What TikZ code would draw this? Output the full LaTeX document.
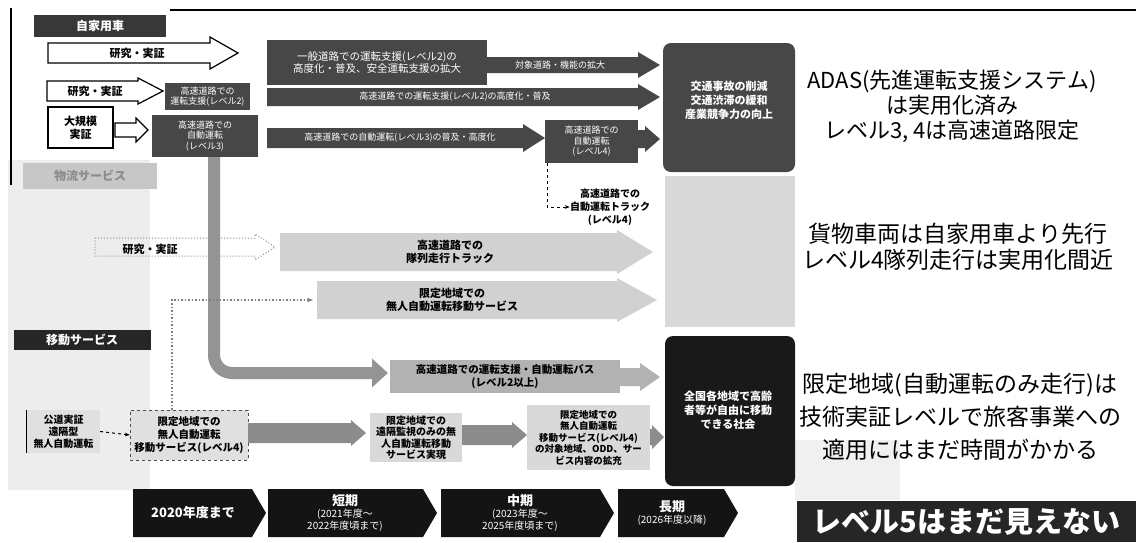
\documentclass[tikz,border=0pt]{standalone}
\usepackage{fontspec}
\setmainfont{Noto Sans CJK JP}
\usetikzlibrary{arrows.meta}
\newcommand{\myarrow}[7]{\path[#1] (#2,#4-#5) -- ({#3-#7},#4-#5) -- ({#3-#7},#4-#6) -- (#3,#4) -- ({#3-#7},#4+#6) -- ({#3-#7},#4+#5) -- (#2,#4+#5) -- cycle;}
\newcommand{\mychev}[3]{\fill[black!92] (#1,489) -- (#2,489) -- (#3,513) -- (#2,537) -- (#1,537) -- cycle;}
\begin{document}
\begin{tikzpicture}[x=1pt,y=-1pt,
  lbl/.style={font=\fontsize{10.5}{12.5}\selectfont, align=center, inner sep=0},
  wlbl/.style={lbl, text=white},
  sml/.style={font=\fontsize{9}{10.5}\selectfont, align=center, inner sep=0},
  dbox/.style={fill=black!72, inner sep=0},
  gbox/.style={fill=black!16, inner sep=0},
  big/.style={font=\fontsize{22}{25}\selectfont, align=center, inner sep=0},
  chevt/.style={text=white, align=center, inner sep=0, font=\fontsize{10}{12}\selectfont}
]
\useasboundingbox (0,0) rectangle (1136,542);
\fill[white] (0,0) rectangle (1136,542);
% scanned background tint
\fill[black!7] (8,160) rectangle (150,490);
\fill[black!6] (795,440) rectangle (900,500);
% frame lines
\draw[line width=2] (170,10) -- (1136,10);
\draw[line width=2] (11,8) -- (11,185);

% ---------------- section labels
\node[fill=black!78, minimum width=132, minimum height=22, inner sep=0, text=white, font=\bfseries\fontsize{12}{14}\selectfont] (hcar) at (100,26) {自家用車};
\node[fill=black!22, minimum width=134, minimum height=26, inner sep=0, text=black!45, font=\bfseries\fontsize{12}{14}\selectfont] (hlog) at (90,176) {物流サービス};
\node[fill=black!85, minimum width=137, minimum height=20, inner sep=0, text=white, font=\bfseries\fontsize{12}{14}\selectfont] (hmov) at (82,340) {移動サービス};

% ---------------- row 1
\myarrow{draw=black, line width=1.2, fill=white}{48}{238}{53}{10}{16}{28}
\node[lbl, font=\bfseries\fontsize{11}{13}\selectfont] (r1a) at (137,53) {研究・実証};
\node[dbox, minimum width=220, minimum height=45] (r1b) at (377,62.5) {};
\node[wlbl] (r1bt) at (r1b) {一般道路での運転支援(レベル2)の\\高度化・普及、安全運転支援の拡大};
\myarrow{fill=black!72}{487}{660}{65}{8}{13}{22}
\node[sml, text=white] (r1c) at (560,65) {対象道路・機能の拡大};

% ---------------- row 2
\myarrow{draw=black, line width=1.2, fill=white}{47}{163}{91}{10}{13}{25}
\node[lbl, font=\bfseries\fontsize{11}{13}\selectfont] (r2a) at (95,91) {研究・実証};
\node[dbox, minimum width=85, minimum height=27] (r2b) at (207.5,96.5) {};
\node[sml, text=white] (r2bt) at (r2b) {高速道路での\\運転支援(レベル2)};
\myarrow{fill=black!72}{267}{660}{97}{9}{13}{22}
\node[sml, text=white] (r2c) at (455,97) {高速道路での運転支援(レベル2)の高度化・普及};

% ---------------- row 3
\node[draw=black, line width=1.2, fill=white, minimum width=65, minimum height=41, inner sep=0, align=center, font=\bfseries\fontsize{11}{13}\selectfont] (r3a) at (80.5,127.5) {大規模\\実証};
\myarrow{draw=black, line width=1.2, fill=white}{115}{148}{130}{7}{12}{12}
\node[dbox, minimum width=106, minimum height=42] (r3b) at (205,136) {};
\node[sml, text=white] (r3bt) at (r3b) {高速道路での\\自動運転\\(レベル3)};
\myarrow{fill=black!72}{267}{545}{138}{10}{14}{22}
\node[sml, text=white] (r3c) at (400,138) {高速道路での自動運転(レベル3)の普及・高度化};
\node[dbox, minimum width=93, minimum height=43] (r3d) at (591.5,141.5) {};
\node[sml, text=white] (r3dt) at (r3d) {高速道路での\\自動運転\\(レベル4)};
\myarrow{fill=black!72}{638}{660}{139}{9}{13}{15}
% truck branch
\coordinate (tk0) at (547,163);
\coordinate (tk1) at (547,207);
\node[lbl, font=\bfseries\fontsize{10}{13}\selectfont] (truck) at (610,207) {高速道路での\\自動運転トラック\\(レベル4)};
\draw[dashed, line width=1, -{Stealth[length=5pt]}] (tk0) -- (tk1) -- (truck.west);

% ---------------- goal boxes
\node[fill=black!72, rounded corners=8, minimum width=132, minimum height=129, inner sep=0] (g1) at (729,107.5) {};
\node[lbl, text=white, font=\bfseries\fontsize{11}{14}\selectfont] (g1t) at (729,100) {交通事故の削減\\交通渋滞の緩和\\産業競争力の向上};
\node[fill=black!15, minimum width=130, minimum height=151, inner sep=0] (g2) at (730,251.5) {};
\node[fill=black!90, rounded corners=8, minimum width=130, minimum height=150, inner sep=0] (g3) at (730,411) {};
\node[lbl, text=white, font=\bfseries\fontsize{11}{14}\selectfont] (g3t) at (728,410) {全国各地域で高齢\\者等が自由に移動\\できる社会};

% ---------------- logistics
\myarrow{draw=black!45, dotted, line width=1, fill=none}{95}{275}{247}{9}{13}{20}
\node[lbl, font=\bfseries\fontsize{11}{13}\selectfont] (l1a) at (150,249) {研究・実証};
\myarrow{fill=black!18}{280}{653}{252}{19}{22}{36}
\node[lbl, font=\bfseries\fontsize{11}{13}\selectfont] (l1b) at (450,252) {高速道路での\\隊列走行トラック};
\myarrow{fill=black!18}{317}{657}{300}{19}{22}{40}
\node[lbl, font=\bfseries\fontsize{11}{13}\selectfont] (l2b) at (452,300) {限定地域での\\無人自動運転移動サービス};

% ---------------- bus branch
\coordinate (bs0) at (214,157);
\coordinate (bs1) at (214,373);
\coordinate (bs2) at (388,373);
\draw[black!42, line width=12, rounded corners=18, -{Triangle[width=28pt,length=16pt]}] (bs0) -- (bs1) -- (bs2);
\node[fill=black!30, minimum width=230, minimum height=33, inner sep=0] (bus) at (505,376.5) {};
\node[lbl, font=\bfseries\fontsize{10.5}{13}\selectfont] (bust) at (bus) {高速道路での運転支援・自動運転バス\\(レベル2以上)};
\myarrow{fill=black!30}{620}{660}{377}{9}{14}{20}

% ---------------- mobility row
\node[fill=black!12, minimum width=73, minimum height=43, inner sep=0] (m0) at (63.5,431.5) {};
\draw[line width=1] (m0.north west) -- (m0.south west);
\node[lbl, font=\bfseries\fontsize{10}{12}\selectfont] (m0t) at (m0) {公道実証\\遠隔型\\無人自動運転};
\node[fill=black!12, draw=black!70, dashed, minimum width=118, minimum height=50, inner sep=0] (m1) at (189,435) {};
\node[lbl, font=\bfseries\fontsize{10.5}{13}\selectfont] (m1t) at (m1) {限定地域での\\無人自動運転\\移動サービス(レベル4)};
\draw[dashed, line width=1, -{Stealth[length=5pt]}] (m0.east) -- (m1.west);
% link from m1 up to logistics arrow
\coordinate (lk0) at (172,300);
\draw[black!50, dotted, line width=1.5, -{Stealth[length=6pt]}] (m1.north -| lk0) -- (lk0) -- (313,300);
\myarrow{fill=black!45}{248}{366}{433}{10}{13}{15}
\node[fill=black!15, minimum width=92, minimum height=49, inner sep=0] (m2) at (416,437.5) {};
\node[lbl, font=\bfseries\fontsize{10}{11.5}\selectfont] (m2t) at (m2) {限定地域での\\遠隔監視のみの無\\人自動運転移動\\サービス実現};
\myarrow{fill=black!45}{462}{527}{435}{10}{13}{15}
\node[fill=black!15, minimum width=123, minimum height=65, inner sep=0] (m3) at (588.5,437.5) {};
\node[lbl, font=\bfseries\fontsize{9.5}{11.5}\selectfont] (m3t) at (m3) {限定地域での\\無人自動運転\\移動サービス(レベル4)\\の対象地域、ODD、サー\\ビス内容の拡充};
\myarrow{fill=black!45}{650}{664}{437}{8}{12}{12}

% ---------------- timeline
\mychev{133}{252}{266}
\node[chevt, font=\bfseries\fontsize{13}{15}\selectfont] (t1) at (193,513) {2020年度まで};
\mychev{268}{423}{437}
\node[chevt] (t2) at (345,513) {{\bfseries\fontsize{13}{15}\selectfont 短期}\\(2021年度～\\2022年度頃まで)};
\mychev{441}{600}{614}
\node[chevt] (t3) at (520,513) {{\bfseries\fontsize{13}{15}\selectfont 中期}\\(2023年度～\\2025年度頃まで)};
\mychev{618}{724}{738}
\node[chevt] (t4) at (672,513) {{\bfseries\fontsize{13}{15}\selectfont 長期}\\(2026年度以降)};

% ---------------- commentary
\node[big] (c1) at (952,106) {ADAS(先進運転支援システム)\\は実用化済み\\レベル3, 4は高速道路限定};
\node[big, font=\fontsize{23}{26}\selectfont] (c2) at (958,247) {貨物車両は自家用車より先行\\レベル4隊列走行は実用化間近};
\node[big, font=\fontsize{23}{33}\selectfont] (c3) at (960,417) {限定地域(自動運転のみ走行)は\\技術実証レベルで旅客事業への\\適用にはまだ時間がかかる};
\node[fill=black!85, minimum width=339, minimum height=41, inner sep=0] (c4) at (966.5,521.5) {};
\node[text=white, inner sep=0, font=\bfseries\fontsize{29}{32}\selectfont] (c4t) at (c4) {レベル5はまだ見えない};
\end{tikzpicture}
\end{document}
